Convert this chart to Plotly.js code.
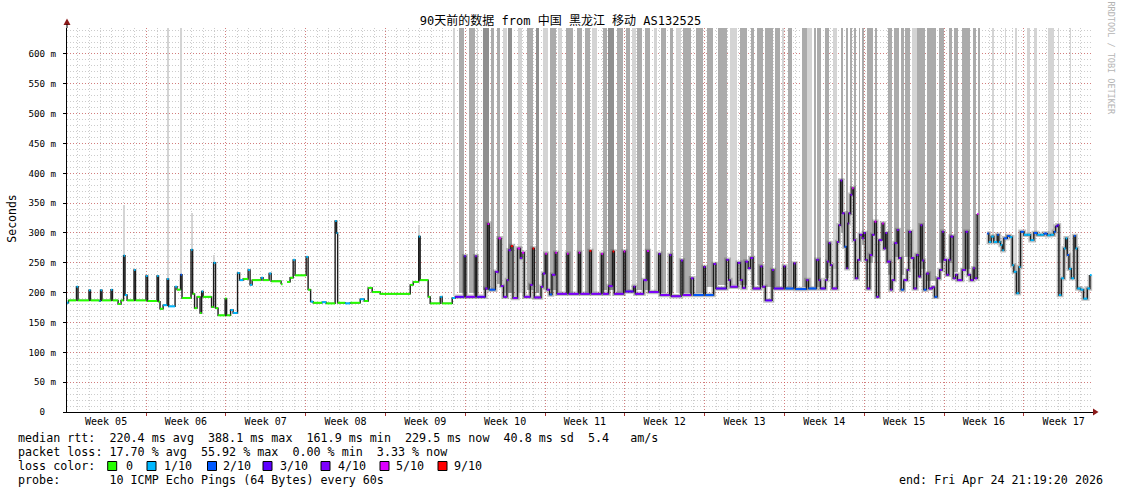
<!DOCTYPE html>
<html><head><meta charset="utf-8">
<script src="https://cdn.plot.ly/plotly-3.0.1.min.js"></script>
<style>html,body{margin:0;padding:0;background:#fff}</style>
</head><body><div id="chart" style="width:1121px;height:494px"></div>
<script>
// ---------- data ----------
const titleText = '90天前的数据 from 中国 黑龙江 移动 AS132525';
const weekLabels = ['Week 05','Week 06','Week 07','Week 08','Week 09','Week 10','Week 11','Week 12','Week 13','Week 14','Week 15','Week 16','Week 17'];
const weekBounds = [6.93,13.93,20.93,27.93,34.93,41.93,48.93,55.93,62.93,69.93,76.93,83.93];
const yTicks = [0,50,100,150,200,250,300,350,400,450,500,550,600];
const yLabels = ['0  ','50 m','100 m','150 m','200 m','250 m','300 m','350 m','400 m','450 m','500 m','550 m','600 m'];

// median rtt (ms) vs days since start, loss = lost pings out of 10
const t = [
 0.00,0.13,0.83,0.97,1.93,2.06,2.85,2.94,3.07,3.86,3.99,4.48,4.74,4.96,5.09,5.27,5.88,6.01,6.93,7.07,
 7.90,8.03,8.16,8.43,8.78,8.91,9.48,9.65,9.96,10.09,10.88,11.02,11.19,11.41,11.67,11.81,11.94,12.68,12.86,13.03,
 13.25,13.87,14.00,14.35,14.57,14.96,15.14,15.45,15.89,16.06,16.24,17.03,17.20,17.73,17.91,18.78,18.91,19.31,19.57,19.84,
 20.01,20.98,21.15,21.37,21.59,22.38,22.73,23.52,23.65,23.74,24.40,24.84,25.72,26.07,26.42,26.77,27.47,30.11,30.37,30.85,30.98,31.68,31.86,32.74,32.91,33.79,34.05,
 34.84,34.98,35.81,35.94,36.69,36.89,37.04,37.57,37.85,38.07,38.29,38.59,38.73,38.94,39.12,39.52,39.76,39.91,40.11,40.64,40.84,40.99,41.58,41.75,
 41.95,42.10,42.33,42.54,42.83,42.98,43.86,44.00,44.88,45.03,45.84,45.99,46.87,47.02,47.51,47.86,48.01,48.83,48.98,49.70,49.85,50.58,50.88,51.04,
 51.90,52.05,52.86,53.01,53.86,54.02,54.74,54.95,55.85,56.00,56.72,56.92,57.84,58.04,58.19,58.83,59.07,59.25,59.51,59.75,59.95,60.18,60.82,61.00,61.26,61.85,62.01,62.87,63.02,63.75,63.90,64.86,65.04,65.74,65.94,66.09,
 66.53,66.68,66.82,66.97,67.12,67.56,67.70,67.85,68.00,68.20,68.37,68.49,68.57,68.72,68.87,69.01,69.16,69.36,69.54,69.75,69.89,70.04,70.19,70.42,70.63,70.83,71.00,71.21,71.50,71.65,71.80,71.94,72.23,72.38,72.59,72.82,72.96,73.17,73.40,73.70,
 73.84,74.05,74.28,74.52,74.69,74.87,75.02,75.16,75.39,75.60,75.89,76.10,76.33,76.56,76.77,76.91,77.15,77.35,77.50,77.74,77.94,78.11,78.53,78.82,79.02,79.26,79.49,79.63,79.84,79.96,
 80.72,80.86,81.07,81.30,81.60,81.74,81.89,82.04,82.18,82.48,82.71,82.92,83.06,83.29,83.50,83.64,83.94,84.23,84.52,84.81,85.11,85.40,85.69,85.99,86.28,86.57,86.72,86.87,87.01,87.22,87.45,87.60,87.74,87.89,88.10,88.33,88.47,88.62,88.91,89.17,89.50,89.73
];
const rtt = [
 183,187,210,187,204,187,186,204,187,205,187,181,187,262,196,187,238,187,228,186,
 228,185,173,179,223,177,210,205,230,191,272,198,174,193,166,202,193,176,250,174,
 162,190,162,171,166,233,221,223,238,213,221,225,221,232,219,214,null,218,225,255,
 229,260,205,185,183,184,182,320,300,183,182,183,189,186,208,201,198,213,218,294,221,193,182,193,182,191,193,
 261,193,261,193,207,315,205,235,291,211,193,221,271,278,191,274,258,267,193,213,274,192,210,232,
 265,205,197,230,267,198,265,198,267,198,270,198,265,198,211,269,198,269,202,210,198,221,270,201,
 265,196,263,194,254,196,224,196,243,196,248,207,255,221,210,250,221,208,252,241,258,207,244,210,187,238,207,244,207,249,206,221,207,255,221,207,
 221,252,283,246,207,285,313,388,333,277,241,316,333,364,375,288,224,255,297,291,300,255,207,263,297,319,193,288,316,274,300,252,205,221,283,305,258,205,221,238,
 302,258,207,263,227,313,254,205,232,207,209,193,224,238,302,255,230,255,294,224,230,221,238,302,230,221,241,224,332,null,
 299,285,294,285,297,285,280,271,291,295,293,246,235,199,243,302,297,297,288,300,297,297,299,296,297,302,311,313,196,224,274,291,263,240,224,295,274,207,205,190,207,229.5
];
const loss = [
 1,0,1,0,1,0,1,1,0,1,0,0,0,1,1,0,1,0,1,0,
 1,0,0,1,1,1,1,0,2,0,1,0,0,0,0,1,0,0,1,0,
 0,0,0,1,1,1,1,0,1,1,0,1,0,1,0,0,0,0,0,1,
 0,1,0,1,0,1,0,1,1,0,1,0,1,0,0,0,0,0,0,1,0,0,0,1,0,1,3,
 3,4,4,3,4,5,2,4,5,4,4,4,4,9,4,5,4,5,4,4,9,4,4,4,
 5,4,2,4,5,4,5,4,5,4,9,4,5,4,4,9,4,5,3,4,4,4,5,4,
 4,4,4,4,4,4,4,2,4,2,4,3,4,4,4,4,4,4,4,4,4,4,4,4,3,4,3,4,2,4,2,4,2,4,4,3,
 4,4,4,4,4,4,4,4,4,2,4,4,4,4,5,4,4,4,4,4,4,4,4,4,4,5,4,4,5,4,4,4,4,4,4,4,4,2,4,4,
 4,4,4,4,4,4,4,2,4,4,4,2,4,4,4,4,4,4,4,4,4,4,4,4,4,4,4,4,5,0,
 2,1,1,1,2,1,1,1,2,2,1,1,1,1,1,2,1,1,1,2,1,1,2,1,1,2,3,3,1,1,1,1,2,1,1,2,1,1,1,1,1,1
];

// smoke columns (ping spread): from/to in days, low/high in ms
const barFrom = [4.92,8.78,9.92,10.88,12.81,30.81,
 33.88,34.41,35.28,35.99,36.51,37.21,37.74,38.27,38.71,39.58,
 40.37,41.16,41.78,42.39,43.09,43.80,44.76,45.46,46.08,47.04,
 47.48,48.27,49.06,49.59,50.03,50.73,51.52,52.13,52.92,53.45,
 54.06,55.21,56.17,57.14,58.19,59.07,60.03,60.56,61.26,62.14,
 62.76,63.28,64.51,64.95,65.56,65.83,66.53,67.23,67.93,68.29,
 68.72,69.07,69.43,69.78,70.21,70.92,72.06,72.50,73.20,73.55,
 74.16,74.60,74.95,75.48,76.45,77.33,77.77,78.47,79.43,79.87,
 81.10,82.24,83.12,84.17,84.79,86.02,86.89,87.94];
const barTo = [5.09,8.95,10.09,11.06,12.99,30.98,
 34.05,34.84,35.81,36.07,37.04,37.48,38.00,38.62,39.06,39.93,
 40.90,41.43,42.22,42.92,43.44,44.41,45.20,45.90,46.52,47.40,
 48.01,48.80,49.41,49.94,50.47,51.17,51.78,52.57,53.19,53.89,
 54.77,55.82,56.70,57.93,58.80,59.68,60.30,61.09,61.96,62.58,
 62.93,63.63,64.95,65.39,65.74,66.18,66.88,67.50,68.11,68.55,
 68.90,69.25,69.60,69.95,70.66,71.09,72.41,73.02,73.46,73.99,
 74.52,74.87,75.22,76.27,76.97,77.59,78.20,79.17,79.70,80.13,
 81.28,82.33,83.29,84.44,85.05,86.54,86.98,88.03];
const barLow = [262,225,230,272,250,294,
 195,200,200,200,205,205,215,200,200,200,
 205,200,205,205,200,200,200,200,200,205,
 205,200,205,200,205,205,200,200,200,200,
 200,200,210,212,212,212,212,212,210,210,
 210,210,210,210,210,210,225,240,300,260,
 330,240,280,280,250,250,230,260,230,260,
 240,260,240,220,250,250,235,240,240,280,
 290,285,220,295,295,295,305,240];
const barHigh = [347,650,650,333,263,313,
 650,650,650,650,650,650,650,650,650,650,
 650,650,650,650,650,650,650,650,650,650,
 650,650,650,650,650,650,650,650,650,650,
 650,650,650,650,650,650,650,650,650,650,
 650,650,650,650,650,650,650,650,650,650,
 650,650,650,650,650,650,650,650,650,650,
 650,650,650,650,650,650,650,650,650,650,
 650,650,650,650,650,650,650,650];
const barShade = ['l','l','l','l','l','l',
 'l','g','g','l','d','g','g','l','d','l',
 'g','d','l','g','l','g','g','g','l','g',
 'd','g','g','l','g','g','l','g','g','l',
 'g','g','g','g','l','g','g','g','g','g',
 'l','g','g','l','g','g','g','l','g','g',
 'g','g','g','g','g','g','g','g','g','g',
 'l','g','g','g','g','g','g','g','g','g',
 'l','l','l','l','l','l','l','l'];

const statRtt  = 'median rtt:  220.4 ms avg  388.1 ms max  161.9 ms min  229.5 ms now  40.8 ms sd  5.4   am/s';
const statLoss = 'packet loss: 17.70 % avg  55.92 % max  0.00 % min  3.33 % now';
const lossLabels = ['0','1/10','2/10','3/10','4/10','5/10','9/10'];
const lossLevels = [0,1,2,3,4,5,9];
const probeText = 'probe:       10 ICMP Echo Pings (64 Bytes) every 60s';
const endText = 'end: Fri Apr 24 21:19:20 2026';

// ---------- styles ----------
const lossColors = {0:'#26ff00',1:'#00b8ff',2:'#0059ff',3:'#5e00ff',4:'#7e00ff',5:'#dd00ff',9:'#ff0000'};
const shadeColors = {l:'#d4d4d4', g:'#ababab', d:'#8f8f8f'};
const MONO = 'DejaVu Sans Mono, monospace';
const L = 67, R = 28, T = 28, B = 82, W = 1121, H = 494;
const PW = W - L - R, PH = H - T - B;
const PX = p => (p - L) / PW;
const PY = p => (H - B - p) / PH;
const nb = s => s.replace(/ /g, '\u00a0');

// ---------- traces ----------
const nb_ = Math.min(barFrom.length, barTo.length, barLow.length, barHigh.length, barShade.length);
const bars = {
  type:'bar', xaxis:'x', yaxis:'y', hoverinfo:'skip',
  x: barFrom.slice(0,nb_).map((f,i)=>(f+barTo[i])/2),
  width: barFrom.slice(0,nb_).map((f,i)=>barTo[i]-f),
  base: barLow.slice(0,nb_),
  y: barLow.slice(0,nb_).map((lo,i)=>barHigh[i]-lo),
  marker:{color: barShade.slice(0,nb_).map(s=>shadeColors[s]), line:{width:0}}
};
const n = Math.min(t.length, rtt.length, loss.length);
// smoke halo drawn only where pings were lost in the busy period
const halo = {
  type:'scatter', mode:'lines', xaxis:'x', yaxis:'y', hoverinfo:'skip',
  x: t.slice(0,n), y: rtt.slice(0,n).map((v,i)=> t[i] >= 34 ? v : null),
  line:{shape:'hv', color:'rgba(80,80,80,0.35)', width:4.5}, connectgaps:false
};
const medLine = {
  type:'scatter', mode:'lines', xaxis:'x', yaxis:'y', hoverinfo:'skip',
  x: t.slice(0,n), y: rtt.slice(0,n), line:{shape:'hv', color:'#1c1c1c', width:1.4}, connectgaps:false
};
const segTraces = lossLevels.map(lv => {
  const xs = [], ys = [];
  for (let i = 0; i < n; i++) {
    if (rtt[i] == null || loss[i] !== lv) continue;
    const xe = (i + 1 < n) ? t[i+1] : t[i] + 0.15;
    xs.push(t[i], xe, null); ys.push(rtt[i], rtt[i], null);
  }
  return {type:'scatter', mode:'lines', xaxis:'x2', yaxis:'y', hoverinfo:'skip',
          x:xs, y:ys, line:{color:lossColors[lv], width:2}};
});

// ---------- annotations / shapes ----------
const ann = (px, py, text, opt) => Object.assign({
  xref:'paper', yref:'paper', x:PX(px), y:PY(py), text:text, showarrow:false,
  xanchor:'left', yanchor:'middle', font:{family:MONO, size:11.7, color:'#000'}
}, opt || {});
const sqLeft = [107.7,147,207.5,263,321,380,438];
const lblLeft = [124,161.5,220.7,277.5,335.6,393.8,451.6];
const annotations = [
  ann(11.7, 219, 'Seconds', {xanchor:'center', textangle:-90, font:{family:MONO, size:11.5, color:'#000'}}),
  ann(1110.5, 58, 'RRDTOOL / TOBI OETIKER', {xanchor:'center', textangle:90, font:{family:MONO, size:8.5, color:'#b4b4b4'}}),
  ann(16, 438, nb(statRtt)),
  ann(16, 452, nb(statLoss)),
  ann(16, 466, nb('loss color:')),
  ann(16, 480, nb(probeText)),
  ann(1105, 480, nb(endText), {xanchor:'right'})
];
lossLabels.forEach((lb,i)=>annotations.push(ann(lblLeft[i], 466, lb)));
const shapes = [];
lossLevels.forEach((lv,i)=>shapes.push({type:'rect', xref:'paper', yref:'paper',
  x0:PX(sqLeft[i]), x1:PX(sqLeft[i]+9), y0:PY(470.5), y1:PY(461.5),
  fillcolor:lossColors[lv], line:{color:'#000', width:1}}));
// axis arrows
const tri = (pts) => 'M' + pts.map(p=>PX(p[0])+','+PY(p[1])).join(' L') + ' Z';
shapes.push({type:'path', xref:'paper', yref:'paper', path:tri([[1098.5,412],[1093,408.5],[1093,415.5]]), fillcolor:'#8b1a1a', line:{width:0}});
shapes.push({type:'path', xref:'paper', yref:'paper', path:tri([[67,18.5],[63.5,25],[70.5,25]]), fillcolor:'#8b1a1a', line:{width:0}});
shapes.push({type:'line', xref:'paper', yref:'paper', x0:PX(67), x1:PX(67), y0:PY(28), y1:PY(24), line:{color:'#000', width:1}});

const gridDash = '1px,2px';
const layout = {
  width:W, height:H, margin:{l:L, r:R, t:T, b:B, pad:0},
  paper_bgcolor:'#fff', plot_bgcolor:'#fff', showlegend:false,
  barmode:'overlay', bargap:0,
  font:{family:MONO, color:'#000', size:10},
  title:{text:titleText, x:0.5, xref:'container', xanchor:'center', y:1-21/H, yref:'container', yanchor:'middle',
         font:{family:'DejaVu Sans Mono, Noto Sans CJK SC', size:12, color:'#000'}},
  xaxis:{type:'linear', range:[0,90], fixedrange:true, tickmode:'array', tickvals:weekBounds,
         showticklabels:false, ticks:'outside', ticklen:3, tickcolor:'#a33',
         showgrid:true, gridcolor:'rgba(215,60,60,0.55)', griddash:gridDash, gridwidth:1,
         minor:{tickmode:'linear', tick0:weekBounds[0], dtick:1, showgrid:true, gridcolor:'#cccccc', griddash:gridDash, ticks:''},
         showline:true, linecolor:'#000', linewidth:1, zeroline:false},
  xaxis2:{type:'linear', overlaying:'x', anchor:'y', side:'bottom', range:[0,90], fixedrange:true,
          tickmode:'array', tickvals:weekBounds.map(b=>b-3.5).concat([weekBounds[11]+3.5]), ticktext:weekLabels,
          ticks:'', ticklabelstandoff:2, showgrid:false, showline:false, zeroline:false, tickfont:{family:MONO, size:10, color:'#000'}},
  yaxis:{range:[0,643.5], fixedrange:true, tickmode:'array', tickvals:yTicks, ticktext:yLabels.map(nb),
         ticks:'outside', ticklen:3, tickcolor:'#000', ticklabelstandoff:5,
         showgrid:true, gridcolor:'rgba(215,60,60,0.55)', griddash:gridDash, gridwidth:1,
         minor:{tickmode:'linear', tick0:0, dtick:10, showgrid:true, gridcolor:'#cccccc', griddash:gridDash, ticks:''},
         showline:true, linecolor:'#000', linewidth:1, zeroline:false, tickfont:{family:MONO, size:9.2, color:'#000'}},
  annotations:annotations, shapes:shapes
};
Plotly.newPlot('chart', [bars, halo, medLine].concat(segTraces), layout, {staticPlot:true, displayModeBar:false});
</script></body></html>
